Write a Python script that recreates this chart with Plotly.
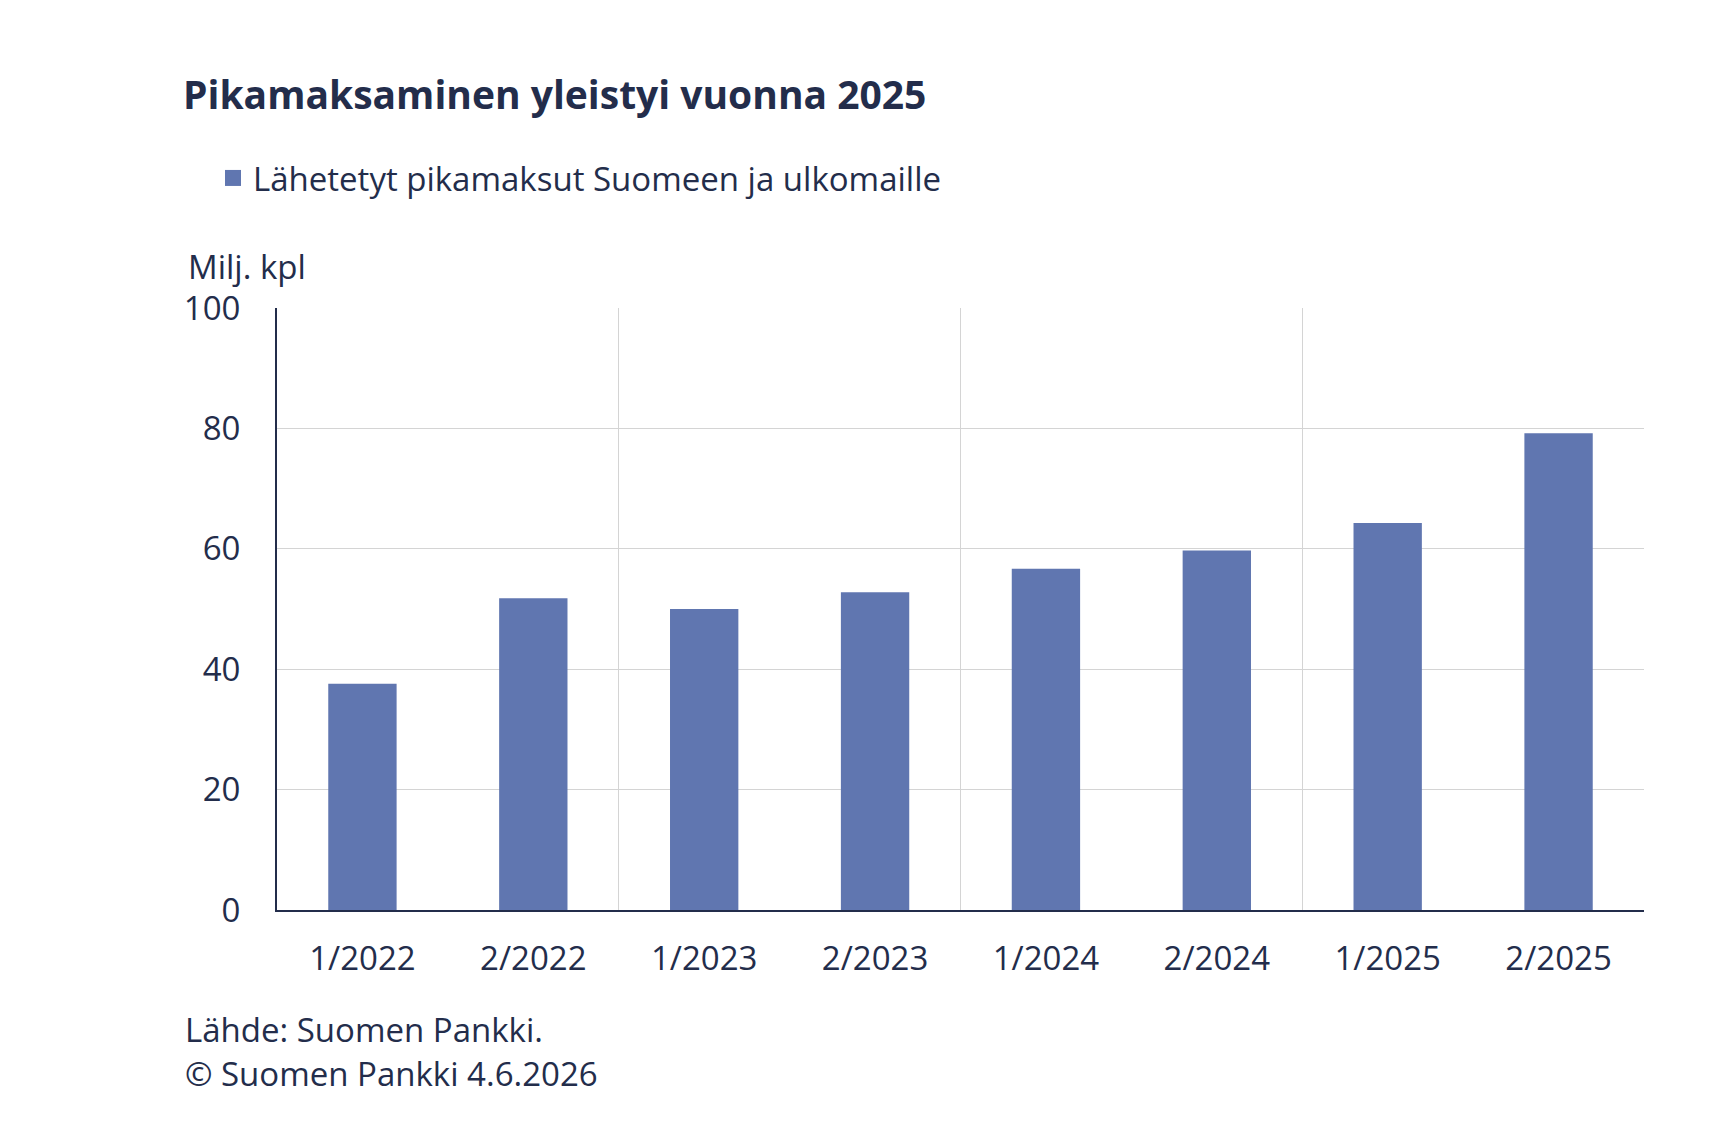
import plotly.graph_objects as go

# puolivuosittaiset pikamaksut, milj. kpl
jaksot = ['1/2022', '2/2022', '1/2023', '2/2023', '1/2024', '2/2024', '1/2025', '2/2025']
pikamaksut = [37.6, 51.8, 50.0, 52.8, 56.7, 59.7, 64.3, 79.2]
y_tikit = [0, 20, 40, 60, 80, 100]
sarjan_nimi = 'Lähetetyt pikamaksut Suomeen ja ulkomaille'

tekstivari = '#232d4b'
palkkivari = '#6076b0'
ruudukko = '#d4d4d4'
fontti = 'Open Sans, Carlito, Calibri, sans-serif'

# sivun oletusmarginaali (8 px) vähennetty sijainneista
W, H = 1711, 1114
vasen, oikea, yla, ala = 269, 1636, 300, 902
leveys, korkeus = oikea - vasen, ala - yla

paikat = list(range(len(jaksot)))

fig = go.Figure()
fig.add_bar(x=paikat, y=pikamaksut, name=sarjan_nimi, showlegend=False,
            marker=dict(color=palkkivari, line=dict(width=0)))
# isompi neliö selitteeseen
fig.add_scatter(x=[None], y=[None], mode='markers', name=sarjan_nimi,
                marker=dict(symbol='square', size=16, color=palkkivari, line=dict(width=0)))

fig.update_layout(
    width=W, height=H,
    paper_bgcolor='white', plot_bgcolor='white',
    margin=dict(l=vasen, r=W - oikea, t=yla, b=H - ala),
    font=dict(family=fontti, size=33, color=tekstivari),
    bargap=0.6,
    showlegend=True,
    title=dict(text='<b>Pikamaksaminen yleistyi vuonna 2025</b>',
               xref='container', x=175 / W, xanchor='left',
               yref='container', y=1 - 87 / H, yanchor='middle',
               font=dict(size=39, color=tekstivari)),
    legend=dict(orientation='h', x=(205 - vasen) / leveys, xanchor='left',
                y=1 + (yla - 170) / korkeus, yanchor='middle', itemsizing='trace',
                font=dict(size=33), bgcolor='rgba(0,0,0,0)'),
)

fig.update_xaxes(
    range=[-0.5, len(jaksot) - 0.5],
    tickvals=paikat, ticktext=jaksot,
    showgrid=False, zeroline=False,
    showline=True, linecolor=tekstivari, linewidth=2,
    ticks='', ticklabelstandoff=18,
    minor=dict(tickvals=[1.5, 3.5, 5.5, 7.5], showgrid=True, gridcolor=ruudukko, gridwidth=1, ticks=''),
)
fig.update_yaxes(
    range=[0, 100], tickvals=y_tikit,
    showgrid=True, gridcolor=ruudukko, gridwidth=1, zeroline=False,
    showline=True, linecolor=tekstivari, linewidth=2,
    ticks='', ticklabelstandoff=28,
)

fig.add_annotation(text='Milj. kpl', xref='paper', yref='paper', x=(178 - vasen) / leveys, y=1 + (yla - 258) / korkeus,
                   xanchor='left', yanchor='middle', showarrow=False, font=dict(size=33))
fig.add_annotation(text='Lähde: Suomen Pankki.', xref='paper', yref='paper', x=(175 - vasen) / leveys, y=(ala - 1021) / korkeus,
                   xanchor='left', yanchor='middle', showarrow=False, font=dict(size=33))
fig.add_annotation(text='© Suomen Pankki 4.6.2026', xref='paper', yref='paper', x=(175 - vasen) / leveys, y=(ala - 1065) / korkeus,
                   xanchor='left', yanchor='middle', showarrow=False, font=dict(size=33))

fig.write_html('out.html')
